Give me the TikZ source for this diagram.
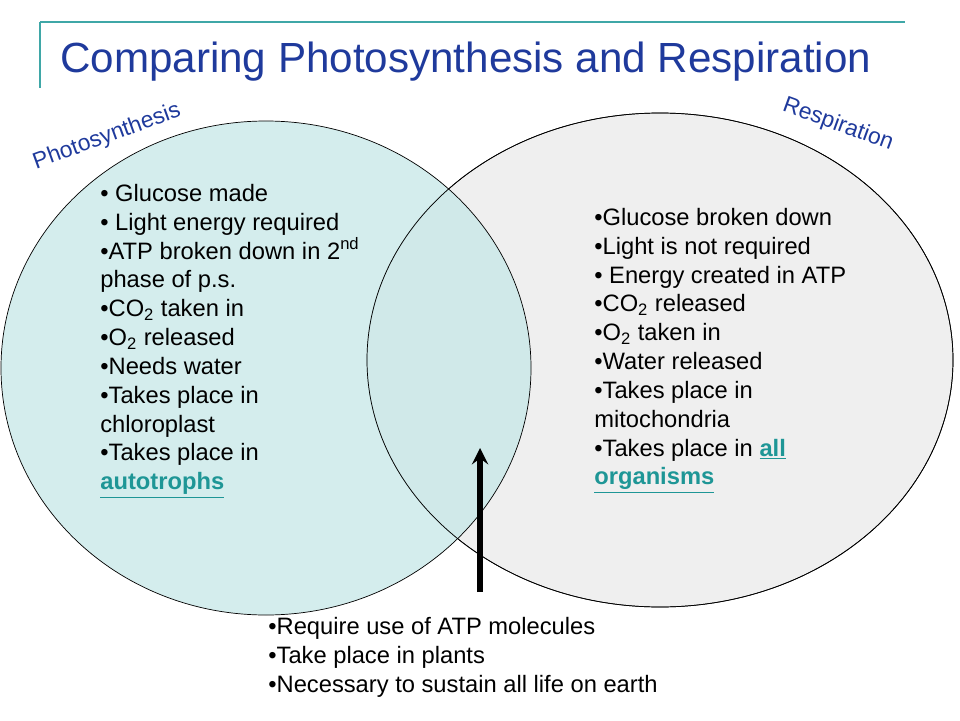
\documentclass[tikz,border=0pt]{standalone}
\usepackage{fontspec}
\setmainfont{Liberation Sans}
\usepackage{tikz}
\definecolor{titleblue}{HTML}{1F3A9C}
\definecolor{tealfill}{HTML}{C9E8E8}
\definecolor{greyfill}{HTML}{EFEFEF}
\definecolor{linkteal}{HTML}{1E9696}
\definecolor{rule}{HTML}{3FA7A7}
\newcommand{\lnk}[1]{\textcolor{linkteal}{\textbf{\underline{#1}}}}
\tikzset{
  listtext/.style={anchor=north west, align=left, inner sep=0pt,
    font=\fontsize{13.5pt}{16.4pt}\selectfont},
  setlabel/.style={text=titleblue, font=\fontsize{13pt}{15pt}\selectfont}
}
\begin{document}
\begin{tikzpicture}[x=0.02cm,y=-0.02cm]
  \useasboundingbox (0,0) rectangle (960,720);

  \draw [rule, thick] (40,22) -- (905,22) (40,22) -- (40,88);
  \node (title) [text=titleblue, font=\fontsize{24pt}{29pt}\selectfont, anchor=west] at (54,62) {Comparing Photosynthesis and Respiration};

  \draw [fill=greyfill] (660,360) ellipse [x radius=293, y radius=247];
  \draw [fill=tealfill, fill opacity=0.8] (266,368) ellipse [x radius=265, y radius=247];
  \draw (660,360) ellipse [x radius=293, y radius=247];

  \node (photo) [setlabel, rotate=20] at (107,137) {Photosynthesis};
  \node (resp) [setlabel, rotate=-20] at (838,125) {Respiration};

  \node (left) [listtext] at (100,184) {%
    • Glucose made\\
    • Light energy required\\
    •ATP broken down in 2\textsuperscript{nd}\\
    phase of p.s.\\
    •CO\textsubscript{2} taken in\\
    •O\textsubscript{2} released\\
    •Needs water\\
    •Takes place in\\
    chloroplast\\
    •Takes place in\\
    \lnk{autotrophs}};

  \node (right) [listtext] at (594,208) {%
    •Glucose broken down\\
    •Light is not required\\
    • Energy created in ATP\\
    •CO\textsubscript{2} released\\
    •O\textsubscript{2} taken in\\
    •Water released\\
    •Takes place in\\
    mitochondria\\
    •Takes place in \lnk{all}\\
    \lnk{organisms}};

  \node (both) [listtext] at (268,617) {%
    •Require use of ATP molecules\\
    •Take place in plants\\
    •Necessary to sustain all life on earth};

  \coordinate (tail) at (480,592);
  \coordinate (head) at (480,448);
  \draw [line width=3pt, -stealth] (tail) -- (head);
\end{tikzpicture}
\end{document}
